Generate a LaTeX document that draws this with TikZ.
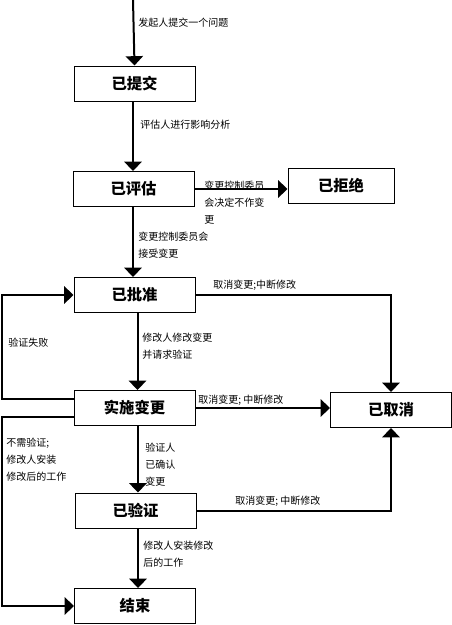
\documentclass[tikz,border=0pt]{standalone}
\usepackage{fontspec}
\setmainfont{Noto Sans CJK SC}
\usetikzlibrary{arrows.meta,calc}
\tikzset{
  px/.style={x=0.75pt,y=-0.75pt},
  state/.style={draw,line width=0.75pt,minimum width=90.75pt,minimum height=26.25pt,inner sep=0pt,font=\fontsize{11.5pt}{12pt}\selectfont\bfseries},
  flow/.style={line width=1.5pt,-{Triangle[width=13pt,length=7pt]}},
  lbl/.style={anchor=west,inner sep=0pt,align=left,font=\fontsize{7.5pt}{12.75pt}\selectfont}
}
\begin{document}
\begin{tikzpicture}[px]
\useasboundingbox (0,0) rectangle (452,625);
% states
\node[state] (sub) at (134.5,83.5) {已提交};
\node[state] (eva) at (133.5,189) {已评估};
\node[state,minimum width=79.5pt] (rej) at (341,185.5) {已拒绝};
\node[state] (apr) at (134.5,295) {已批准};
\node[state] (imp) at (134.5,408) {实施变更};
\node[state] (can) at (391,410) {已取消};
\node[state] (ver) at (135.5,510.5) {已验证};
\node[state] (fin) at (135,606) {结束};
% free ends and bends
\coordinate (start) at (133,0);
\coordinate (lf) at (2,399);
\coordinate (ln) at (2,417);
% connectors
\draw[flow] (start) -- (sub.north);
\draw[flow] (sub.south -| start) -- (eva.north -| start);
\draw[flow] (eva.east) -- (eva.east -| rej.west);
\draw[flow] (eva.south -| start) -- (apr.north -| start);
\draw[flow] (apr.east) -| (can.north);
\draw[flow] ([xshift=2.25pt]apr.south) -- ([xshift=2.25pt]imp.north);
\draw[flow] ([yshift=6.75pt]imp.west) -- (lf) |- (apr.west);
\draw[flow] (imp.east) -- (imp.east -| can.west);
\draw[flow] ([yshift=-6.75pt]imp.west) -- (ln) |- (fin.west);
\draw[flow] ([xshift=2.6pt]imp.south) -- ([xshift=2.6pt]imp.south |- ver.north);
\draw[flow] (ver.east) -| (can.south);
\draw[flow] ([xshift=1.9pt]ver.south) -- ([xshift=1.9pt]ver.south |- fin.north);
% labels
\node[lbl] (t1) at (138,23) {发起人提交一个问题};
\node[lbl] (t2) at (140,125) {评估人进行影响分析};
\node[lbl] (t3) at (204,203) {变更控制委员\\会决定不作变\\更};
\node[lbl] (t4) at (138,245.5) {变更控制委员会\\接受变更};
\node[lbl] (t5) at (213,285) {取消变更;中断修改};
\node[lbl] (t6) at (142,346) {修改人修改变更\\并请求验证};
\node[lbl] (t7) at (8,343) {验证失败};
\node[lbl] (t8) at (198,400) {取消变更; 中断修改};
\node[lbl] (t9) at (6,460) {不需验证;\\修改人安装\\修改后的工作};
\node[lbl] (t10) at (145,465) {验证人\\已确认\\变更};
\node[lbl] (t11) at (235,501) {取消变更; 中断修改};
\node[lbl] (t12) at (143,554.5) {修改人安装修改\\后的工作};
\end{tikzpicture}
\end{document}
